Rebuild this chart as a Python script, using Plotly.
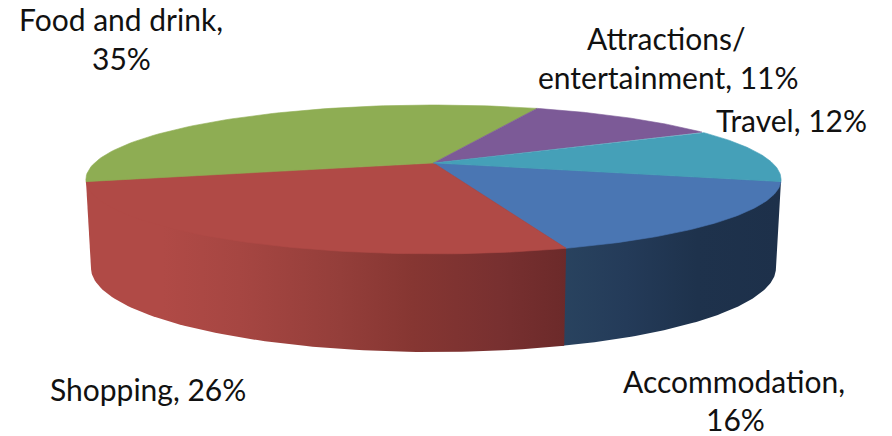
import numpy as np
import plotly.graph_objects as go

# Spending shares, in clockwise drawing order from the right-hand edge of the disc
categories = ["Accommodation", "Shopping", "Food and drink", "Attractions/ entertainment", "Travel"]
shares = [16, 26, 35, 11, 12]
top_colors = ["#4A76B3", "#B04A46", "#8EAD53", "#7C5A97", "#45A0B8"]
wall_gradients = [
    [[0, "#29435F"], [0.3, "#243B59"], [0.62, "#1E324C"], [1, "#1D304A"]],
    [[0, "#B04A46"], [0.16, "#B04A46"], [0.32, "#A64642"], [0.53, "#943E3A"],
     [0.68, "#863632"], [0.86, "#783030"], [1, "#6C2A2A"]],
    None, None, None,
]

label_lines = [
    ["Accommodation,", "16%"],
    ["Shopping, 26%"],
    ["Food and drink,", "35%"],
    ["Attractions/", "entertainment, 11%"],
    ["Travel, 12%"],
]
label_centers = [
    [(734, 380.5), (735, 418.5)],
    [(147.5, 388.5)],
    [(121, 18.5), (121, 57.5)],
    [(666, 37.5), (668, 76.5)],
    [(791, 119.5)],
]

# Perspective disc: top face and bottom face of the cylinder
START_ANGLE = 14.4
PERSPECTIVE = 0.221
CX = 433.5
TOP = dict(a=339.0, b=70.8, cy=163.0)
BOTTOM = dict(a=334.0, b=79.9, cy=249.5)


def rim(deg, face):
    t = np.radians(deg)
    x, y = np.cos(t), np.sin(t)
    w = 1 - PERSPECTIVE * y
    return CX + face["a"] * x / w, face["cy"] + face["b"] * y / w


fig = go.Figure()
edges = START_ANGLE + 360 * np.concatenate([[0], np.cumsum(shares)]) / sum(shares)

# Outer wall: only the slices facing the viewer show a side.
# Each outline runs hub -> bottom rim -> hub, so the wall also lies beneath its
# wedge and no background shows through along the shared edges.
for i, grad in enumerate(wall_gradients):
    if grad is None:
        continue
    arc = np.linspace(edges[i], edges[i + 1] + 0.6, 80)
    xt, yt = rim(arc[[0, -1]], TOP)
    xb, yb = rim(arc, BOTTOM)
    fig.add_trace(go.Scatter(
        x=np.concatenate([[CX, xt[0]], xb, [xt[1], CX]]),
        y=np.concatenate([[TOP["cy"], yt[0]], yb, [yt[1], TOP["cy"]]]),
        mode="lines", fill="toself", line=dict(width=0),
        # shading spans the visible wall only, not the part hidden under the wedge
        fillgradient=dict(
            type="horizontal", colorscale=grad,
            start=float(min(xt.min(), xb.min())), stop=float(max(xt.max(), xb.max())),
        ),
        hoverinfo="skip", showlegend=False,
    ))

# Top face wedges
for i, (name, color) in enumerate(zip(categories, top_colors)):
    arc = np.linspace(edges[i], edges[i + 1], 80)
    xr, yr = rim(arc, TOP)
    fig.add_trace(go.Scatter(
        x=np.concatenate([[CX], xr, [CX]]), y=np.concatenate([[TOP["cy"]], yr, [TOP["cy"]]]),
        mode="lines", fill="toself", fillcolor=color, line=dict(color=color, width=0.6),
        name=name, showlegend=False, hoverinfo="name",
    ))

annotations = []
for lines, centers in zip(label_lines, label_centers):
    for text, (x, y) in zip(lines, centers):
        annotations.append(dict(
            x=x, y=y, xref="x", yref="y", text=text, showarrow=False,
            xanchor="center", yanchor="middle",
            font=dict(family="Lato, Carlito, sans-serif", size=30, color="#111111"),
        ))

fig.update_layout(
    width=892, height=436, margin=dict(l=0, r=0, t=0, b=0),
    paper_bgcolor="white", plot_bgcolor="white",
    xaxis=dict(range=[0, 892], visible=False, fixedrange=True),
    yaxis=dict(range=[436, 0], visible=False, fixedrange=True),
    annotations=annotations,
)
fig.write_html("out.html", config=dict(displayModeBar=False))
